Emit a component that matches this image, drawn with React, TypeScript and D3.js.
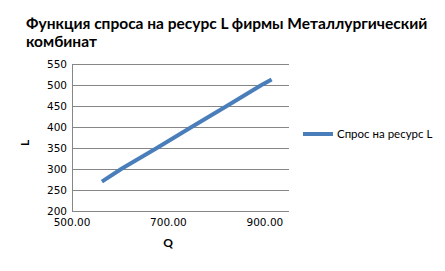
import React from "react";
import * as d3 from "d3";

// Demand for resource L at given output Q
const qValues = [562, 602, 676, 748, 821, 893, 914];
const lValues = [270, 300, 350, 400, 450, 500, 513];
const xTicks = [500, 700, 900];
const yTicks = [200, 250, 300, 350, 400, 450, 500, 550];
const titleLines = ["Функция спроса на ресурс L фирмы Металлургический", "комбинат"];
const seriesName = "Спрос на ресурс L";

const W = 445;
const H = 271;
const plot = { left: 72, right: 289, top: 64, bottom: 211 };

export default function App() {
  const x = d3.scaleLinear().domain([500, 950]).range([plot.left, plot.right]);
  const y = d3.scaleLinear().domain([200, 550]).range([plot.bottom, plot.top]);
  const pts = qValues.map((q, i) => [q, lValues[i]] as [number, number]);
  const line = d3
    .line<[number, number]>()
    .x((d) => x(d[0]))
    .y((d) => y(d[1]));

  const tickFont = "'DejaVu Sans', sans-serif";
  return (
    <svg
      width={W}
      height={H}
      style={{ position: "absolute", left: 0, top: 0, background: "#fff" }}
    >
      {titleLines.map((t, i) => (
        <text
          key={i}
          x={26}
          y={29 + i * 18}
          fontFamily="Lato, sans-serif"
          fontWeight="bold"
          fontSize={15.5}
          fill="#000"
        >
          {t}
        </text>
      ))}

      {yTicks.map((t) => (
        <line
          key={t}
          x1={plot.left}
          x2={plot.right}
          y1={Math.round(y(t)) + 0.5}
          y2={Math.round(y(t)) + 0.5}
          stroke="#868686"
          strokeWidth={1}
        />
      ))}
      <line
        x1={plot.left + 0.5}
        x2={plot.left + 0.5}
        y1={plot.top}
        y2={plot.bottom}
        stroke="#868686"
      />

      {yTicks.map((t) => (
        <text
          key={t}
          x={plot.left - 5}
          y={y(t)}
          dy="0.36em"
          textAnchor="end"
          fontFamily={tickFont}
          fontSize={10.5}
          fill="#000"
        >
          {t}
        </text>
      ))}
      {xTicks.map((t) => (
        <text
          key={t}
          x={x(t)}
          y={226}
          textAnchor="middle"
          fontFamily={tickFont}
          fontSize={10.5}
          fill="#000"
        >
          {t.toFixed(2)}
        </text>
      ))}

      <text
        x={168}
        y={247}
        textAnchor="middle"
        fontFamily="Lato, sans-serif"
        fontWeight="bold"
        fontSize={12}
      >
        Q
      </text>
      <text
        transform={`translate(29,143) rotate(-90)`}
        textAnchor="middle"
        fontFamily="Lato, sans-serif"
        fontWeight="bold"
        fontSize={12}
      >
        L
      </text>

      <path
        d={line(pts) || ""}
        fill="none"
        stroke="#4A7EBB"
        strokeWidth={4}
        strokeLinecap="butt"
      />

      <line x1={303} x2={333} y1={134} y2={134} stroke="#4A7EBB" strokeWidth={4} />
      <text
        x={337}
        y={134}
        dy="0.35em"
        fontFamily="Lato, sans-serif"
        fontSize={11.5}
        fill="#000"
      >
        {seriesName}
      </text>
    </svg>
  );
}
